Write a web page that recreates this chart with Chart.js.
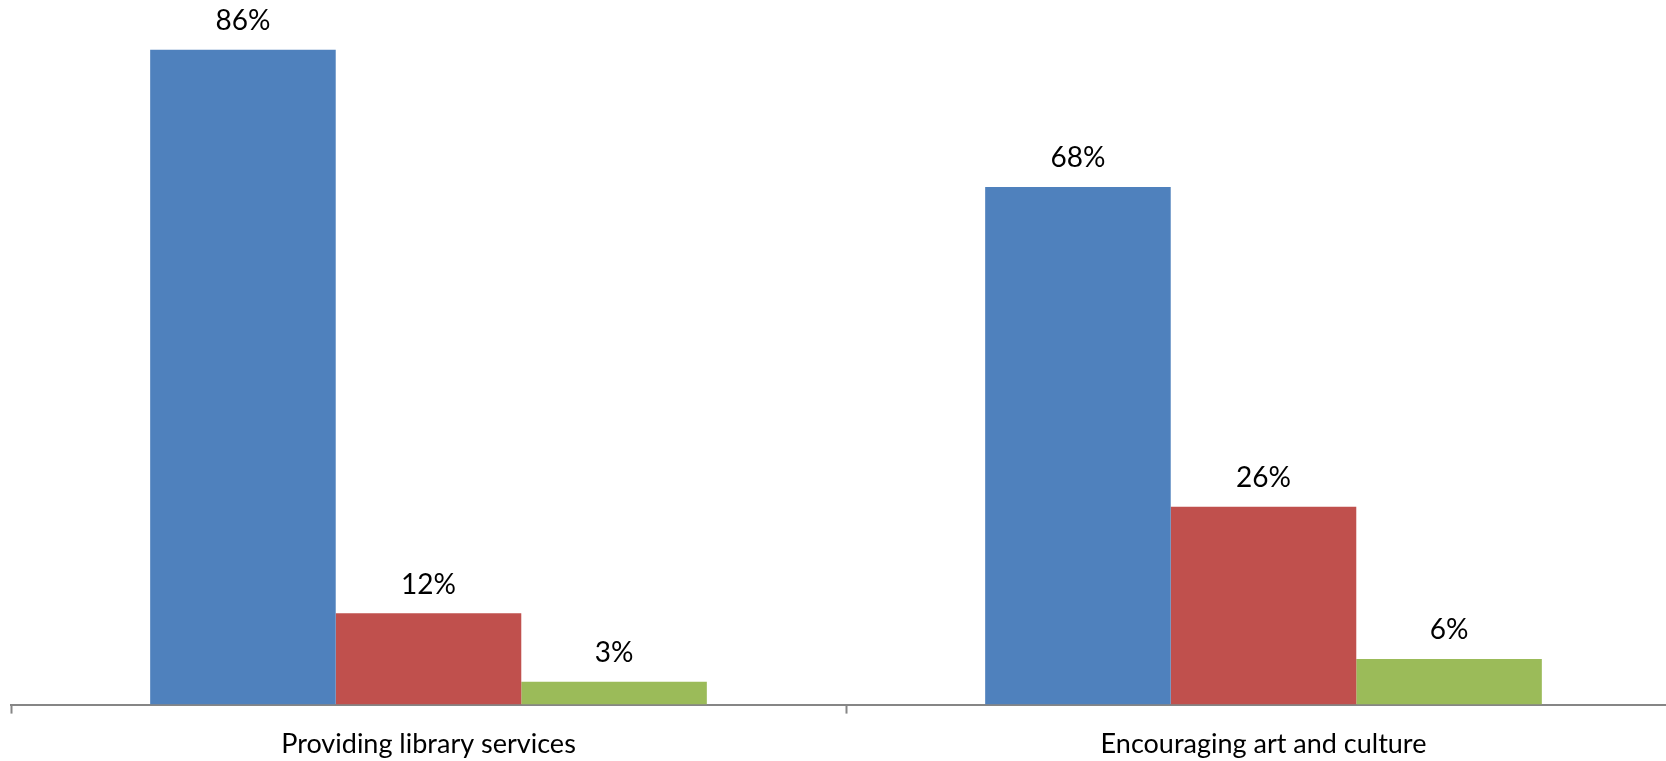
<!DOCTYPE html>
<html>
<head>
<meta charset="utf-8">
<script src="https://cdn.jsdelivr.net/npm/chart.js@4/dist/chart.umd.min.js"></script>
<style>
  html, body { margin: 0; padding: 0; background: #fff; overflow: hidden; }
  #wrap { width: 1666px; height: 761px; overflow: hidden; position: relative; }
  #chart { display: block; position: absolute; left: 0; top: 0; }
</style>
</head>
<body>
<div id="wrap">
  <canvas id="chart" width="1690" height="774"></canvas>
</div>
<script>
const categories = ['Providing library services', 'Encouraging art and culture'];
const seriesA = [86, 68];
const seriesB = [12, 26];
const seriesC = [3, 6];

const FONT = '"Liberation Sans Narrow", "Arial Narrow", Lato, sans-serif';

// value labels above each bar
const barLabels = {
  id: 'barLabels',
  afterDatasetsDraw(chart) {
    const ctx = chart.ctx;
    ctx.save();
    ctx.font = '28px ' + FONT;
    ctx.fillStyle = '#000';
    ctx.textAlign = 'center';
    ctx.textBaseline = 'alphabetic';
    chart.data.datasets.forEach((ds, i) => {
      chart.getDatasetMeta(i).data.forEach((bar, j) => {
        ctx.fillText(ds.data[j] + '%', bar.x, bar.y - 19.5);
      });
    });
    ctx.restore();
  },
};

// three touching bars per category, gap of 1.5 bar widths
const makeSet = (data, color) => ({
  data,
  backgroundColor: color,
  borderWidth: 0,
  barPercentage: 1,
  categoryPercentage: 3 / 4.5,
});

new Chart(document.getElementById('chart').getContext('2d'), {
  type: 'bar',
  data: {
    labels: categories,
    datasets: [
      makeSet(seriesA, '#4F81BD'),
      makeSet(seriesB, '#C0504D'),
      makeSet(seriesC, '#9BBB59'),
    ],
  },
  options: {
    responsive: false,
    animation: false,
    layout: { padding: { left: 11, right: 9, top: 8, bottom: 0 } },
    plugins: { legend: { display: false }, tooltip: { enabled: false } },
    scales: {
      x: {
        grid: {
          drawOnChartArea: false,
          drawTicks: true,
          tickLength: 9,
          tickWidth: 2,
          color: '#868686',
        },
        border: { color: '#868686', width: 2 },
        ticks: {
          color: '#000',
          font: { family: FONT, size: 27 },
          padding: 14,
          maxRotation: 0,
        },
      },
      y: {
        display: false,
        min: 0,
        max: 91.5,
      },
    },
  },
  plugins: [barLabels],
});
</script>
</body>
</html>
